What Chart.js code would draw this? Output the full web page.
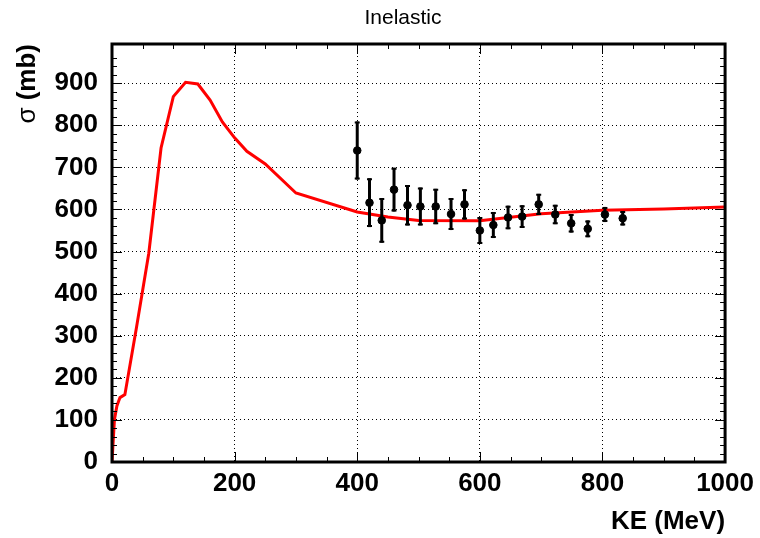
<!DOCTYPE html>
<html>
<head>
<meta charset="utf-8">
<script src="https://cdn.jsdelivr.net/npm/chart.js@4.4.1/dist/chart.umd.min.js"></script>
<style>
  html, body { margin: 0; padding: 0; background: #fff; }
  #c { display: block; }
</style>
</head>
<body>
<canvas id="c" width="760" height="538"></canvas>
<script>
// Model curve (red line)
const curveKE    = [0, 4, 8, 13, 21, 40, 60, 80, 100, 120, 140, 160, 180, 200, 220, 250, 300, 400, 450, 500, 600, 700, 800, 900, 1000];
const curveSigma = [0, 101, 133, 153, 160, 320, 496, 746, 868, 902, 898, 860, 808, 770, 738, 708, 639, 594, 582, 574, 573, 590, 598, 601, 606];

// Measured points with errors
const dataKE    = [400, 420, 440, 460, 482, 503, 528, 553, 575, 600, 622, 646, 669, 696, 723, 749, 776, 804, 833];
const dataSigma = [740, 616, 574, 647, 610, 607, 607, 589, 612, 550, 563, 581, 583, 612, 588, 567, 554, 588, 579];
const dataErr   = [69, 58, 53, 52, 48, 45, 42, 38, 36, 32, 31, 28, 27, 25, 23, 22, 20, 18, 17];

// Axis ticks
const xTickLabels = [0, 200, 400, 600, 800, 1000];
const yTickLabels = [0, 100, 200, 300, 400, 500, 600, 700, 800, 900];

const FONT = "'Liberation Sans', Arial, Helvetica, sans-serif";

// Error bars, frame, inward ticks and titles
const rootStyle = {
    id: 'rootStyle',
    afterDatasetsDraw(chart) {
        const { ctx, scales: { x, y }, chartArea } = chart;
        ctx.save();
        ctx.beginPath();
        ctx.rect(chartArea.left, chartArea.top, chartArea.width, chartArea.height);
        ctx.clip();
        ctx.strokeStyle = '#000';
        dataKE.forEach((ke, i) => {
            const px = x.getPixelForValue(ke);
            const top = y.getPixelForValue(dataSigma[i] + dataErr[i]);
            const bot = y.getPixelForValue(dataSigma[i] - dataErr[i]);
            ctx.lineWidth = 3;
            ctx.beginPath();
            ctx.moveTo(px, top);
            ctx.lineTo(px, bot);
            ctx.stroke();
            ctx.lineWidth = 2;
            ctx.beginPath();
            ctx.moveTo(px - 2.5, top + 1);
            ctx.lineTo(px + 2.5, top + 1);
            ctx.moveTo(px - 2.5, bot - 1);
            ctx.lineTo(px + 2.5, bot - 1);
            ctx.stroke();
        });
        ctx.restore();
    },
    afterDraw(chart) {
        const { ctx, scales: { x, y }, chartArea: a } = chart;
        ctx.save();
        ctx.strokeStyle = '#000';
        ctx.lineWidth = 1;

        // ticks on all four sides, pointing inward
        ctx.beginPath();
        x.ticks.forEach(t => {
            if (t.value <= x.min || t.value >= x.max) return;
            const px = Math.round(x.getPixelForValue(t.value)) + 0.5;
            const len = t.value % 200 === 0 ? 10 : 5;
            ctx.moveTo(px, a.bottom); ctx.lineTo(px, a.bottom - len);
            ctx.moveTo(px, a.top); ctx.lineTo(px, a.top + len);
        });
        y.ticks.forEach(t => {
            if (t.value <= y.min || t.value >= y.max) return;
            const py = Math.round(y.getPixelForValue(t.value)) + 0.5;
            const len = t.value % 100 === 0 ? 10 : 5;
            ctx.moveTo(a.left, py); ctx.lineTo(a.left + len, py);
            ctx.moveTo(a.right, py); ctx.lineTo(a.right - len, py);
        });
        ctx.stroke();

        // frame
        ctx.lineWidth = 3;
        ctx.strokeRect(a.left, a.top, a.width, a.height);

        // titles
        ctx.fillStyle = '#000';
        ctx.textBaseline = 'middle';
        ctx.font = '21px ' + FONT;
        ctx.textAlign = 'center';
        ctx.fillText('Inelastic', 403, 18);

        ctx.font = 'bold 26px ' + FONT;
        ctx.textAlign = 'right';
        ctx.fillText('KE (MeV)', a.right, 522);

        // y title: normal sigma, bold unit
        ctx.translate(28, a.top);
        ctx.rotate(-Math.PI / 2);
        ctx.font = 'bold 26px ' + FONT;
        const unit = ' (mb)';
        const wUnit = ctx.measureText(unit).width;
        ctx.font = '26px ' + FONT;
        const wSig = ctx.measureText('σ').width;
        ctx.textAlign = 'left';
        ctx.fillText('σ', -(wUnit + wSig), 0);
        ctx.font = 'bold 26px ' + FONT;
        ctx.fillText(unit, -wUnit, 0);
        ctx.restore();
    }
};

const gridColor = (labels) => (c) =>
    (c.tick && labels.includes(c.tick.value) && c.tick.value !== 0 && c.tick.value !== 1000) ? '#000' : 'rgba(0,0,0,0)';

new Chart(document.getElementById('c'), {
    type: 'line',
    data: {
        datasets: [
            {
                type: 'scatter',
                data: dataKE.map((ke, i) => ({ x: ke, y: dataSigma[i] })),
                backgroundColor: '#000',
                borderColor: '#000',
                pointRadius: 3.8,
                pointHoverRadius: 3.8,
                showLine: false,
                order: 0
            },
            {
                data: curveKE.map((ke, i) => ({ x: ke, y: curveSigma[i] })),
                borderColor: '#ff0000',
                borderWidth: 3,
                pointRadius: 0,
                tension: 0,
                fill: false,
                order: 1
            }
        ]
    },
    options: {
        responsive: false,
        animation: false,
        devicePixelRatio: 1,
        layout: { padding: { top: 44, right: 33, left: 0, bottom: 0 } },
        plugins: { legend: { display: false }, tooltip: { enabled: false }, title: { display: false } },
        scales: {
            x: {
                type: 'linear',
                min: 0,
                max: 1000,
                afterFit: (s) => { s.height = 76; },
                border: { display: false, dash: [1, 3] },
                grid: { drawTicks: false, color: gridColor(xTickLabels), lineWidth: 1 },
                ticks: {
                    stepSize: 50,
                    autoSkip: false,
                    maxRotation: 0,
                    padding: 6,
                    color: '#000',
                    font: { family: FONT, size: 26, weight: 'bold' },
                    callback: (v) => xTickLabels.includes(v) ? String(v) : ''
                }
            },
            y: {
                min: 0,
                max: 993,
                afterFit: (s) => { s.width = 112; },
                border: { display: false, dash: [1, 3] },
                grid: { drawTicks: false, color: gridColor(yTickLabels), lineWidth: 1 },
                ticks: {
                    stepSize: 20,
                    autoSkip: false,
                    padding: 14,
                    color: '#000',
                    font: { family: FONT, size: 26, weight: 'bold' },
                    callback: (v) => yTickLabels.includes(v) ? String(v) : ''
                }
            }
        }
    },
    plugins: [rootStyle]
});
</script>
</body>
</html>
